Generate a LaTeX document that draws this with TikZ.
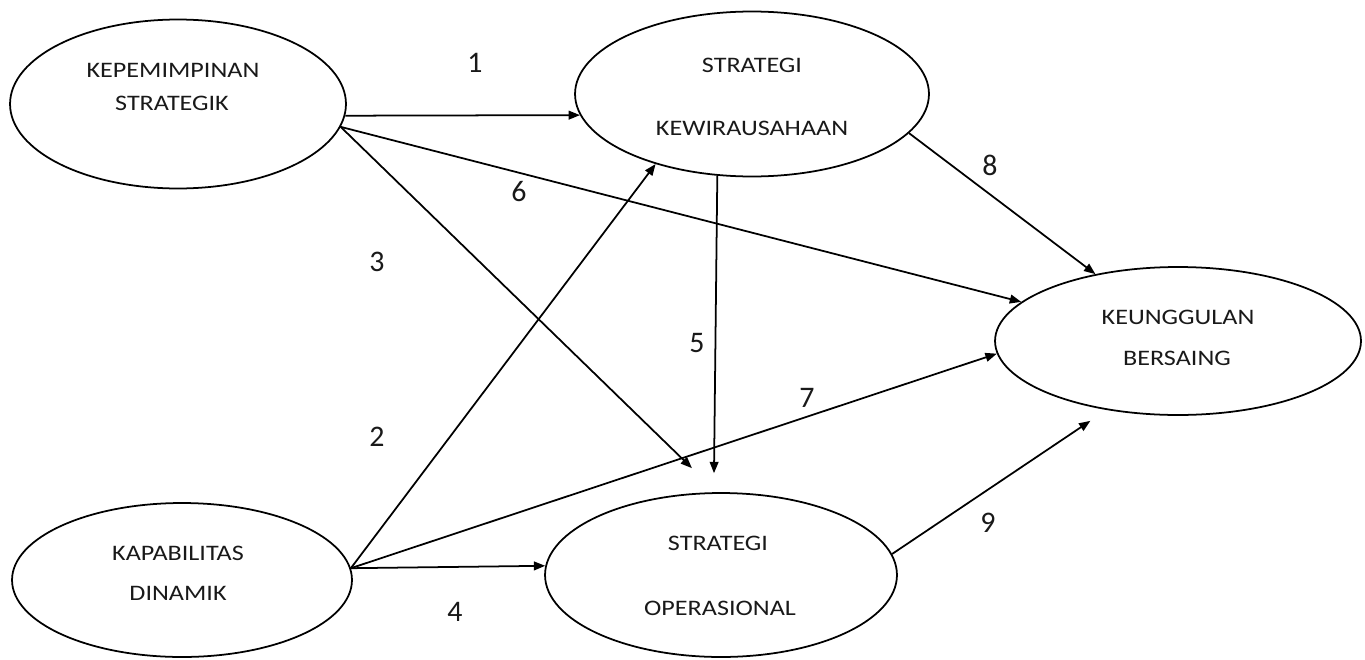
\documentclass[tikz,border=0pt]{standalone}
\usepackage{fontspec}
\setmainfont{Carlito}
\usetikzlibrary{arrows.meta, shapes.geometric}

\tikzset{
  construct/.style={draw, ellipse, line width=1pt, inner sep=0pt},
  lbl/.style={font=\fontsize{12.6}{14}\selectfont, text=black!90, inner sep=0pt},
  num/.style={font=\fontsize{17}{20}\selectfont, text=black!90, inner sep=0pt},
  link/.style={-{Triangle[length=6.5pt,width=5pt]}, line width=1pt}
}
\newcommand{\wide}[1]{\scalebox{1.18}[1]{#1}}

\begin{document}
\begin{tikzpicture}[x=0.02cm, y=-0.02cm]
  \useasboundingbox (0,0) rectangle (1365,659);

  % constructs
  \node[construct, minimum width=6.72cm, minimum height=3.38cm] (kep) at (178,104) {};
  \node[construct, minimum width=7.08cm, minimum height=3.3cm] (kew) at (752,94) {};
  \node[construct, minimum width=7.32cm, minimum height=2.96cm] (keu) at (1178,341) {};
  \node[construct, minimum width=6.8cm, minimum height=3.08cm] (kap) at (182,580) {};
  \node[construct, minimum width=7.04cm, minimum height=3.28cm] (ops) at (721,575) {};

  \node[lbl] (kep1) at (173,70) {\wide{KEPEMIMPINAN}};
  \node[lbl] (kep2) at (172,103) {\wide{STRATEGIK}};
  \node[lbl] (kew1) at (752,65) {\wide{STRATEGI}};
  \node[lbl] (kew2) at (752,128) {\wide{KEWIRAUSAHAAN}};
  \node[lbl] (keu1) at (1178,317) {\wide{KEUNGGULAN}};
  \node[lbl] (keu2) at (1177,358) {\wide{BERSAING}};
  \node[lbl] (kap1) at (178,553) {\wide{KAPABILITAS}};
  \node[lbl] (kap2) at (178,593) {\wide{DINAMIK}};
  \node[lbl] (ops1) at (718,543) {\wide{STRATEGI}};
  \node[lbl] (ops2) at (720,608) {\wide{OPERASIONAL}};

  % hypotheses
  \draw[link] (kep.-4.4) -- (kew.187.3);
  \draw[link] (kap.4.4) -- (kew.216.7);
  \draw[link, shorten >=0.69cm] (kep.-8) -- (ops.93);
  \draw[link] (kap.4.4) -- (ops.177);
  \draw[link, shorten >=0.38cm] (kew.247.4) -- (ops.95.6);
  \draw[link] (kep.-8) -- (keu.166.9);
  \draw[link] (kap.4.4) -- (keu.184.8);
  \draw[link] (kew.-14.9) -- (keu.141.7);
  \draw[link, shorten >=0.39cm] (ops.7.3) -- (keu.224.7);

  \node[num] (n1) at (475,63) {1};
  \node[num] (n2) at (377,437) {2};
  \node[num] (n3) at (377,262) {3};
  \node[num] (n4) at (455,612) {4};
  \node[num] (n5) at (697,343) {5};
  \node[num] (n6) at (519,192) {6};
  \node[num] (n7) at (807,398) {7};
  \node[num] (n8) at (990,165) {8};
  \node[num] (n9) at (988,523) {9};
\end{tikzpicture}
\end{document}
